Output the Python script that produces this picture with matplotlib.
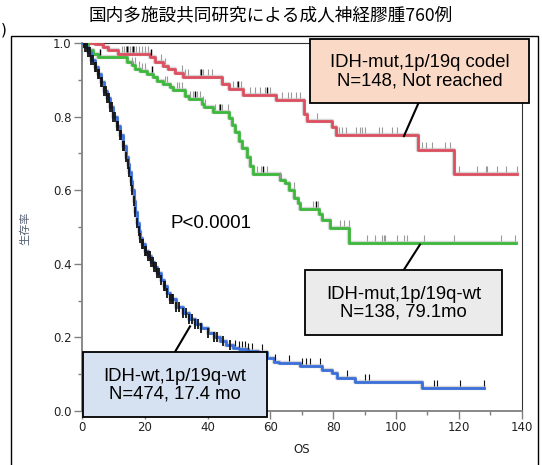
import numpy as np
import matplotlib
matplotlib.use("Agg")
import matplotlib.pyplot as plt
from matplotlib.patches import Rectangle
from matplotlib.path import Path

# ---------------- data ----------------
title = "国内多施設共同研究による成人神経膠腫760例"
ylabel = "生存率"
xlabel = "OS"
pval = "P<0.0001"

# IDH-mut, 1p/19q codel (red)
red_t = [0, 4.1, 6.8, 8.4, 11.6, 21.7, 23.3, 25.9, 27.5, 29.7, 32.0, 44.7, 46.8,
         51.4, 61.9, 70.6, 71.6, 79.6, 81.0, 107.0, 118.3, 138.6]
red_s = [1.0, 0.996, 0.989, 0.98, 0.971, 0.962, 0.949, 0.937, 0.928, 0.918, 0.907, 0.889,
         0.876, 0.860, 0.844, 0.807, 0.789, 0.771, 0.749, 0.709, 0.645, 0.645]
red_cens = [12.8, 13.4, 14.0, 14.6, 15.2, 15.8, 16.5, 17.2, 18.0, 19.0, 20.2, 21.1, 25.0, 26.5,
            31.8, 32.8, 33.8, 37.6, 38.6, 40.0, 41.4, 48.0, 49.2, 50.5, 53.6, 55.0, 56.6, 58.2, 60.0,
            63.7, 65.5, 66.5, 68.0, 69.5, 74.8, 81.7, 82.8, 83.9, 87.1, 88.6, 89.2, 90.2,
            94.5, 95.5, 98.8, 100.3, 108.3, 109.4, 111.5, 115.7, 117.3, 120.0, 125.9,
            128.5, 129.0, 132.2, 134.9, 138.6]
red_cens_dark = [14.3, 16.2, 22.0, 38.0, 49.8, 59.0]

# IDH-mut, 1p/19q-wt (green)
green_t = [0, 2.0, 3.6, 5.2, 14.2, 15.8, 16.9, 18.5, 20.6, 22.7, 23.8, 25.9, 28.1, 29.1,
           32.8, 34.0, 38.2, 39.0, 41.6, 46.7, 47.7, 48.8, 49.9, 51.0, 52.5, 53.6, 54.3,
           63.0, 64.7, 65.8, 67.6, 68.7, 69.3, 75.6, 76.4, 79.1, 85.1, 138.1]
green_s = [1.0, 0.98, 0.971, 0.961, 0.948, 0.939, 0.93, 0.925, 0.916, 0.907, 0.898, 0.889,
           0.88, 0.871, 0.857, 0.848, 0.835, 0.826, 0.813, 0.795, 0.778, 0.757, 0.735, 0.716,
           0.690, 0.666, 0.643, 0.629, 0.620, 0.600, 0.580, 0.566, 0.550, 0.534, 0.518,
           0.496, 0.457, 0.457]
green_cens = [15.8, 16.8, 18.0, 19.2, 20.1, 26.5, 27.2, 30.2, 31.0, 31.8, 34.4, 35.5, 36.6,
              37.6, 38.6, 39.2, 42.4, 43.5, 44.6, 46.5, 55.7, 57.0, 58.9, 63.1, 67.4, 73.7,
              75.3, 82.3, 83.5, 84.9, 90.8, 93.4, 95.6, 96.0, 96.6, 100.3, 102.5, 103.6,
              108.8, 118.4, 133.3, 138.0]
green_cens_dark = [5.7, 22.3, 36.0, 44.0, 57.5, 74.5]

# IDH-wt, 1p/19q-wt (blue)
blue_t = [0, 1, 2, 3, 4, 5, 6, 7, 8, 9, 10, 11, 12, 13, 14, 14.5, 15, 15.5, 16, 16.5,
          17, 17.5, 18, 18.5, 19, 20, 21, 22, 23, 24, 25, 26, 27, 28, 30, 32, 34, 36, 38,
          40, 42, 44, 46, 48, 50, 53, 56, 58.8, 61.0, 62.6, 69.5, 76.4, 79.6, 81.2, 87.0,
          108.3, 128.0]
blue_s = [1.0, 0.99, 0.975, 0.955, 0.935, 0.915, 0.895, 0.87, 0.85, 0.825, 0.80, 0.775,
          0.75, 0.72, 0.69, 0.67, 0.65, 0.625, 0.60, 0.57, 0.54, 0.51, 0.49, 0.47, 0.455,
          0.435, 0.42, 0.405, 0.39, 0.375, 0.357, 0.34, 0.322, 0.305, 0.283, 0.265, 0.25,
          0.236, 0.225, 0.213, 0.20, 0.19, 0.18, 0.172, 0.168, 0.162, 0.160, 0.144, 0.134,
          0.131, 0.121, 0.112, 0.103, 0.089, 0.078, 0.062, 0.062]
# censored marks lying on the steep early part of the curve
blue_cens_early = [0.5, 1, 1.5, 2, 2.5, 3, 3.5, 4, 4.5, 5, 5.5, 6, 6.5, 7, 7.5, 8, 8.5, 9,
                   9.5, 10, 10.5, 11, 11.5, 12, 12.5, 13, 13.5, 14, 14.5, 15, 15.5, 16, 16.5,
                   17, 17.5, 18, 18.5, 19, 19.5, 20, 20.5, 21, 21.5, 22, 22.5, 23, 23.5, 24,
                   24.5, 25, 26, 26.5, 27, 28, 28.5, 29, 30, 31, 32, 33, 34, 35, 36, 37, 38,
                   40, 42, 43, 45, 47]
blue_cens = [48.8, 50.0, 51.0, 52.0, 53.0, 54.1, 57.3, 61.5, 65.8, 70.0, 71.2, 72.7, 75.9,
             84.4, 90.2, 91.3, 112.0, 113.1, 120.5, 128.0]

labels = ["IDH-mut,1p/19q codel\nN=148, Not reached",
          "IDH-mut,1p/19q-wt\nN=138, 79.1mo",
          "IDH-wt,1p/19q-wt\nN=474, 17.4 mo"]

# ---------------- figure ----------------
W, H = 542, 465
fig = plt.figure(figsize=(W / 100, H / 100), dpi=100)
ax = fig.add_axes([82 / W, 1 - 411 / H, 439.7 / W, 368 / H])

def surv_at(times, surv, t):
    idx = np.searchsorted(np.asarray(times), np.asarray(t), side="right") - 1
    return np.asarray(surv)[idx]

cens_marker = Path([(0, 0.3), (0, 1)], [Path.MOVETO, Path.LINETO])

def draw(times, surv, color, cens, cens_color, dark=None):
    ax.step(times, surv, where="post", color="#b0b0b0", lw=3.2, alpha=0.5, zorder=2)
    ax.step(times, surv, where="post", color=color, lw=2.0, zorder=3)
    ax.plot(cens, surv_at(times, surv, cens), ls="none", marker=cens_marker, ms=12,
            mew=0.8, mec=cens_color, zorder=4)
    if dark:
        ax.plot(dark, surv_at(times, surv, dark), ls="none", marker=cens_marker, ms=12,
                mew=1.0, mec="black", zorder=4)

draw(red_t, red_s, "#dd4f5f", red_cens, "#9a9a9a", red_cens_dark)
draw(green_t, green_s, "#3cb83c", green_cens, "#9a9a9a", green_cens_dark)
draw(blue_t, blue_s, "#3b6fd9", blue_cens, "#111111")
ax.plot(blue_cens_early, surv_at(blue_t, blue_s, blue_cens_early), ls="none", marker="|",
        ms=7, mew=1.3, mec="#111111", zorder=4)

ax.set_xlim(0, 140)
ax.set_ylim(0, 1.0)
ax.set_xticks(np.arange(0, 141, 20))
ax.set_xticks(np.arange(10, 140, 20), minor=True)
ax.set_yticks(np.arange(0, 1.01, 0.2))
ax.set_yticks(np.arange(0.1, 1.0, 0.2), minor=True)
ax.set_yticklabels([f"{v:.1f}" for v in np.arange(0, 1.01, 0.2)])
ax.tick_params(axis="both", which="major", length=6, width=1, color="#808080",
               labelsize=8.5, labelcolor="#222222", pad=1.5)
ax.tick_params(axis="both", which="minor", length=3, width=1, color="#808080")
for s in ["left", "bottom"]:
    ax.spines[s].set_color("#808080")
    ax.spines[s].set_linewidth(1.3)
for s in ["top", "right"]:
    ax.spines[s].set_color("#333333")
    ax.spines[s].set_linewidth(0.8)

ax.set_xlabel(xlabel, fontsize=8.5, color="#222222", labelpad=6)
fig.text(25 / W, 1 - 228 / H, ylabel, rotation=90, ha="center", va="center",
         fontsize=8, color="#556070", family=["Noto Sans CJK JP", "DejaVu Sans"])

fig.text(271 / W, 1 - 15 / H, title, ha="center", va="center", fontsize=12.7,
         family=["Noto Sans CJK JP", "DejaVu Sans"])
fig.text(0.5 / W, 1 - 30 / H, ")", ha="left", va="center", fontsize=11)

# outer frame
fig.add_artist(Rectangle((10.7 / W, -0.1), 527 / W, 1.1 - 35.7 / H, transform=fig.transFigure,
                         fill=False, lw=1.0, ec="black"))

tf = dict(ha="center", va="center", fontsize=13.3, family=["Liberation Sans", "DejaVu Sans"],
          linespacing=1.08, zorder=11)
ax.text(41.1, 0.51, pval, fontsize=13.5, ha="center", va="center",
        family=["Liberation Sans", "DejaVu Sans"])

boxes = [
    ((72.5, 0.838), 69.8, 0.173, "#fadac6", (107.2, 0.838), (102.5, 0.747)),
    ((71.1, 0.207), 62.7, 0.177, "#ebebeb", (102.5, 0.384), (107.6, 0.452)),
    ((0.2, -0.0155), 58.7, 0.177, "#d6e1f2", (29.7, 0.162), (34.4, 0.230)),
]
for (xy, w, h, fc, p0, p1), lab in zip(boxes, labels):
    ax.add_patch(Rectangle(xy, w, h, fc=fc, ec="black", lw=1.3, zorder=10, clip_on=False))
    ax.text(xy[0] + w / 2, xy[1] + h / 2 - 0.003, lab, **tf)
    ax.plot([p0[0], p1[0]], [p0[1], p1[1]], color="black", lw=1.5, zorder=9, clip_on=False)

fig.savefig("out.png", dpi=100)
